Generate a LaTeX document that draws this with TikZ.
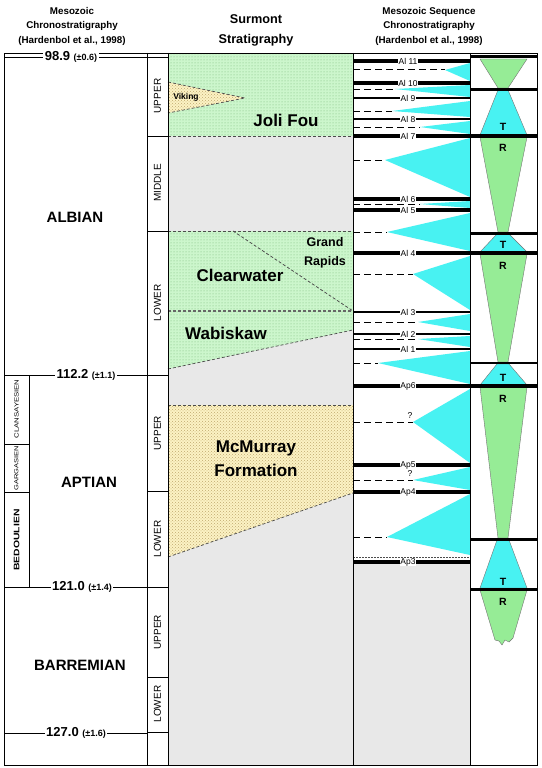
\documentclass[tikz,border=0pt]{standalone}
\usepackage{fontspec}
\setmainfont{Liberation Sans}
\usetikzlibrary{patterns}

\definecolor{shalegrey}{RGB}{232,232,232}
\definecolor{sandgreen}{RGB}{204,246,204}
\definecolor{dotgreen}{RGB}{120,185,120}
\definecolor{sandyellow}{RGB}{252,242,196}
\definecolor{dotyellow}{RGB}{190,170,110}
\definecolor{tcyan}{RGB}{72,242,242}
\definecolor{rgreen}{RGB}{150,236,150}

\begin{document}
\begin{tikzpicture}[x=1pt,y=-1pt,font=\fontsize{9}{11}\selectfont]
  \path[use as bounding box] (0,0) rectangle (541,768);
  \fill[white] (0,0) rectangle (541,768);

  \tikzset{greensand/.style={fill=sandgreen,postaction={pattern=dots,pattern color=dotgreen}},
    yellowsand/.style={fill=sandyellow,postaction={pattern=crosshatch dots,pattern color=dotyellow}},
    contact/.style={draw=black!70,line width=.7pt,dash pattern=on 3pt off 2pt},
    mfs/.style={draw=black,line width=1pt,dash pattern=on 7pt off 4pt},
    sblabel/.style={fill=white,inner sep=.6pt,font=\fontsize{8.5}{9}\selectfont},
    head/.style={align=center,font=\bfseries\fontsize{9.8}{14.5}\selectfont},
    age/.style={fill=white,inner sep=1.5pt,font=\bfseries\fontsize{13}{14}\selectfont},
    stage/.style={font=\bfseries\fontsize{15}{17}\selectfont},
    substage/.style={rotate=90,font=\fontsize{10}{11}\selectfont},
    unit/.style={align=center,font=\bfseries\fontsize{17}{24}\selectfont},
    trlabel/.style={font=\bfseries\fontsize{10.5}{11}\selectfont},
    tshape/.style={fill=tcyan,draw=black!55,line width=.4pt},
    rshape/.style={fill=rgreen,draw=black!55,line width=.4pt}}

  % column headings
  \node[head] (chronohead) at (72,26) {Mesozoic\\Chronostratigraphy\\(Hardenbol et al., 1998)};
  \node[head,font=\bfseries\fontsize{12.7}{20}\selectfont] (surmonthead) at (256,30) {Surmont\\Stratigraphy};
  \node[head] (seqhead) at (429,26) {Mesozoic Sequence\\Chronostratigraphy\\(Hardenbol et al., 1998)};

  % Surmont stratigraphy column
  \fill[shalegrey] (168,53) rectangle (353,765);
  \path[greensand] (168,53) rectangle (353,136);
  \path[yellowsand] (168,82) -- (245,98) -- (168,113) -- cycle;
  \draw[contact] (168,82) -- (245,98) -- (168,113);
  \draw[contact] (168,136) -- (353,136);
  \path[greensand] (168,231) -- (353,231) -- (353,330) -- (168,369) -- cycle;
  \draw[contact] (168,231) -- (353,231);
  \draw[contact] (168,369) -- (353,330);
  \draw[contact,line width=1.2pt,draw=black!60] (168,311) -- (353,311);
  \draw[contact] (233,231) -- (353,311);
  \path[yellowsand] (168,405) -- (353,405) -- (353,493) -- (168,557) -- cycle;
  \draw[contact] (168,405) -- (353,405);
  \draw[contact] (168,557) -- (353,493);

  \node[font=\bfseries\fontsize{8.5}{9}\selectfont] (viking) at (186,97) {Viking};
  \node[unit] (jolifou) at (286,120) {Joli Fou};
  \node[unit,font=\bfseries\fontsize{12.5}{19}\selectfont] (grandrapids) at (325,253) {Grand\\Rapids};
  \node[unit] (clearwater) at (240,275) {Clearwater};
  \node[unit] (wabiskaw) at (226,333) {Wabiskaw};
  \node[unit] (mcmurray) at (256,459) {McMurray\\Formation};

  % sequence column: systems tracts and boundaries
  \fill[shalegrey] (353,563) rectangle (470,765);
  \foreach \y/\x/\a/\b in {70/445/63/81, 89/395/85/97, 111/392/101/117, 127/420/121/134,
      160/385/138/197, 204/420/201/208, 232/387/213/251, 274/413/256/310, 322/418/314/331,
      339/418/336/347, 363/378/351/384, 422/413/389/463, 480/413/467/490, 537/387/494/555}
    {\fill[tcyan] (\x,\y) -- (470,\a) -- (470,\b) -- cycle;
     \draw[mfs] (353,\y) -- (\x,\y);}
  \node[sblabel,fill=none] (query1) at (410,416) {?};
  \node[sblabel,fill=none] (query2) at (410,474) {?};
  \draw[black!70,line width=.6pt,dash pattern=on 2pt off 1pt] (353,557) -- (470,557);
  \foreach \y/\lab/\w [count=\i] in {61/Al 11/3.6, 83/Al 10/3.6, 98/Al 9/2.4, 119/Al 8/2.4,
      136/Al 7/3.6, 199/Al 6/3.6, 210/Al 5/3.6, 253/Al 4/3.6, 312/Al 3/2.4, 334/Al 2/2.4,
      349/Al 1/2.4, 386/Ap6/3.6, 465/Ap5/3.6, 492/Ap4/3.6, 562/Ap3/3.6}
    \draw[line width=\w pt] (353,\y) -- (470,\y) node[sblabel,pos=.47] (sb\i) {\lab};

  % transgressive / regressive column
  \path[rshape] (480,59) -- (527,59) -- (508,88) -- (498,88) -- cycle;
  \path[tshape] (498,90) -- (508,90) -- (527,135) -- (480,135) -- cycle;
  \path[rshape] (480,137) -- (527,137) -- (508,232) -- (498,232) -- cycle;
  \path[tshape] (497,234) -- (509,234) -- (527,252) -- (480,252) -- cycle;
  \path[rshape] (480,254) -- (527,254) -- (508,362) -- (498,362) -- cycle;
  \path[tshape] (497,364) -- (509,364) -- (527,385) -- (480,385) -- cycle;
  \path[rshape] (480,387) -- (527,387) -- (508,538) -- (498,538) -- cycle;
  \path[tshape] (497,540) -- (509,540) -- (527,588) -- (480,588) -- cycle;
  \path[rshape] (480,590) -- (527,590) -- (513,638) -- (509,642) -- (505,640) -- (502,645)
    -- (499,641) -- (495,640) -- cycle;
  \foreach \y/\w in {57/3, 89/3, 136/3.6, 233/3, 253/3.6, 363/1.8, 386/3.6, 539/3, 589/3}
    \draw[line width=\w pt] (470,\y) -- (537,\y);
  \foreach \y/\lab [count=\i] in {127/T, 148/R, 245/T, 266/R, 378/T, 399/R, 582/T, 602/R}
    \node[trlabel] (tr\i) at (503,\y) {\lab};

  % chronostratigraphy grid
  \draw[line width=.9pt] (4,53) rectangle (537,765);
  \foreach \x in {147,168,353,470}
    \draw[line width=.9pt] (\x,53) -- (\x,765);
  \foreach \y in {57,375,587,733}
    \draw[line width=.6pt] (4,\y) -- (147,\y);
  \foreach \y in {57,136,231,375,491,587,677,732}
    \draw[line width=.6pt] (147,\y) -- (168,\y);
  \draw[line width=.6pt] (29,375) -- (29,587);
  \draw[line width=.6pt] (4,444) -- (29,444) (4,492) -- (29,492);

  \node[age] (age989) at (71,57) {98.9 {\fontsize{9}{9}\selectfont(±0.6)}};
  \node[age] (age1122) at (86,375) {112.2 {\fontsize{9}{9}\selectfont(±1.1)}};
  \node[age] (age1210) at (82,587) {121.0 {\fontsize{9}{9}\selectfont(±1.4)}};
  \node[age] (age1270) at (76,733) {127.0 {\fontsize{9}{9}\selectfont(±1.6)}};

  \node[stage] (albian) at (75,217) {ALBIAN};
  \node[stage] (aptian) at (89,482) {APTIAN};
  \node[stage] (barremian) at (80,665) {BARREMIAN};

  \foreach \y/\lab [count=\i] in {96/UPPER, 183/MIDDLE, 303/LOWER, 433/UPPER, 539/LOWER,
      632/UPPER, 704/LOWER}
    \node[substage] (sub\i) at (157.5,\y) {\lab};
  \node[rotate=90,xscale=1.3,font=\fontsize{6}{7}\selectfont] (clansayesien) at (16.5,409) {CLANSAYESIEN};
  \node[rotate=90,xscale=1.3,font=\fontsize{5.8}{7}\selectfont] (gargasien) at (16.5,468) {GARGASIEN};
  \node[rotate=90,xscale=1.3,font=\bfseries\fontsize{8}{9}\selectfont] (bedoulien) at (16.5,540) {BEDOULIEN};
\end{tikzpicture}
\end{document}
